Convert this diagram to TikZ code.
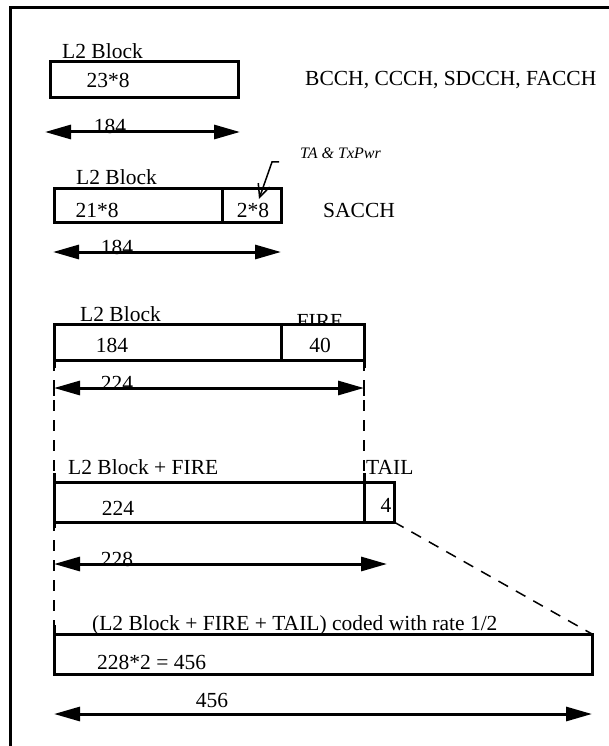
\documentclass[tikz,border=0pt]{standalone}
\usepackage{fontspec}
\setmainfont{Liberation Serif}
\usetikzlibrary{arrows.meta}
\begin{document}
\begin{tikzpicture}[x=1pt,y=-1pt,
  cell/.style={draw,line width=3pt,fill=white,inner sep=0pt,outer sep=0pt,anchor=north west},
  lbl/.style={inner sep=0pt,font=\fontsize{21.5}{24}\selectfont},
  note/.style={inner sep=0pt,font=\fontsize{16}{18}\selectfont\itshape},
  dim/.style={line width=3pt,{Triangle[length=26pt,width=14pt]}-{Triangle[length=26pt,width=14pt]}},
  tick/.style={line width=3pt},
  guide/.style={line width=1.5pt,dash pattern=on 11pt off 9pt}]
\useasboundingbox (0,0) rectangle (609,746);
% frame
\coordinate (fbl) at (10,746);
\coordinate (ftl) at (10,8);
\coordinate (ftr) at (609,8);
\draw[line width=3pt] (fbl) -- (ftl) -- (ftr);

% ---------- block 1 ----------
\node[lbl,anchor=base west] (l1) at (62,59) {L2 Block};
\node[cell,minimum width=188,minimum height=36] (b1) at (50,62) {};
\node[lbl] (t1) at (108,80) {23*8};
\node[lbl,anchor=west] (ch1) at (305,80) {BCCH, CCCH, SDCCH, FACCH};
\coordinate (a1l) at (45,132);
\coordinate (a1r) at (240,132);
\node[lbl,anchor=base] (d1) at (110,134) {184};
\draw[dim] (a1l) -- (a1r);

% ---------- block 2 ----------
\node[note,anchor=west] (ta) at (300,153) {TA \& TxPwr};
\node[lbl,anchor=base west] (l2) at (76,185) {L2 Block};
\node[cell,minimum width=168,minimum height=34] (b2a) at (54,188) {};
\node[cell,minimum width=59,minimum height=34] (b2b) at (b2a.north east) {};
\node[lbl] (t2a) at (97,210) {21*8};
\node[lbl] (t2b) at (253,210) {2*8};
\node[lbl,anchor=west] (ch2) at (323,210) {SACCH};
\coordinate (tah) at (279,162);
\coordinate (tak) at (272,162);
\coordinate (tat) at (259,199);
\draw[line width=1.5pt,-{Straight Barb[length=13pt,width=12pt]}] (tah) -- (tak) -- (tat);
\coordinate (a2l) at (53,252);
\coordinate (a2r) at (281,252);
\node[lbl,anchor=base] (d2) at (117,254) {184};
\draw[dim] (a2l) -- (a2r);

% ---------- block 3 ----------
\node[lbl,anchor=base west] (l3) at (80,321) {L2 Block};
\node[lbl,anchor=base] (f3) at (320,328) {FIRE};
\node[cell,minimum width=227,minimum height=36] (b3a) at (54,324) {};
\node[cell,minimum width=83,minimum height=36] (b3b) at (b3a.north east) {};
\node[lbl] (t3a) at (112,345) {184};
\node[lbl] (t3b) at (320,345) {40};
\coordinate (g3l) at (54,360);
\coordinate (g3r) at (364,360);

% ---------- block 4 ----------
\node[lbl,anchor=base west] (l4) at (68,474) {L2 Block + FIRE};
\node[lbl,anchor=base west] (l4t) at (366,474) {TAIL};
\node[cell,minimum width=310,minimum height=40] (b4a) at (54,482) {};
\node[cell,minimum width=30,minimum height=40] (b4b) at (b4a.north east) {};
\node[lbl] (t4a) at (118,508) {224};
\node[lbl] (t4b) at (386,505) {4};

% ---------- block 5 ----------
\node[lbl,anchor=base west] (l5) at (92,630) {(L2 Block + FIRE + TAIL) coded with rate 1/2};
\node[cell,minimum width=538,minimum height=40] (b5) at (54,634) {};
\node[lbl,anchor=west] (t5) at (97,662) {228*2 = 456};

% ---------- guide lines ----------
\draw[guide] (g3l) -- (b5.north west);
\draw[guide] (g3r) -- (b4b.north west);
\draw[guide] (b4b.south east) -- (b5.north east);
\draw[tick] (g3l) -- ++(0,8);
\draw[tick] (g3r) -- ++(0,8);
\draw[tick] (b4a.north west) -- ++(0,-9);
\draw[tick] (b4a.south west) -- ++(0,6);
\draw[tick] (b4b.north west) -- ++(0,-9);
\draw[tick] (b5.north west) -- ++(0,-9);

% ---------- dimension 3 ----------
\coordinate (a3l) at (54,388);
\coordinate (a3r) at (364,388);
\node[lbl,anchor=base] (d3) at (117,390) {224};
\draw[dim] (a3l) -- (a3r);
\draw[line width=1.5pt] (54,380) -- (54,396);
\draw[line width=1.5pt] (364,380) -- (364,396);

% ---------- dimension 4 ----------
\coordinate (a4l) at (54,564);
\coordinate (a4r) at (387,564);
\node[lbl,anchor=base] (d4) at (117,566) {228};
\draw[dim] (a4l) -- (a4r);

% ---------- dimension 5 ----------
\coordinate (a5l) at (54,714);
\coordinate (a5r) at (592,714);
\node[lbl,anchor=base] (d5) at (212,707) {456};
\draw[dim] (a5l) -- (a5r);
\end{tikzpicture}
\end{document}
